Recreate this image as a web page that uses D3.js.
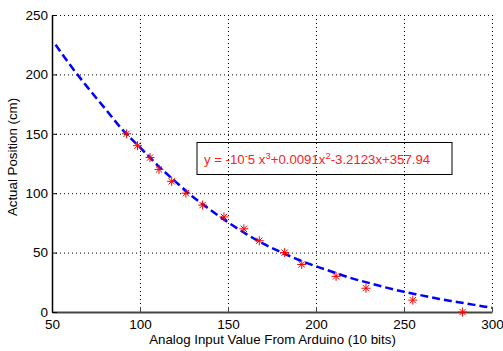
<!DOCTYPE html>
<html>
<head>
<meta charset="utf-8">
<script src="https://cdn.jsdelivr.net/npm/d3@7"></script>
<style>
  body { margin: 0; background: #fff; }
  text { font-family: 'Liberation Sans', Arial, sans-serif; }
</style>
</head>
<body>
<div id="chart"></div>
<script>
// Data
const pointX = [92.4, 98.6, 105.7, 110.8, 118, 126.1, 135.6, 147.7, 159, 167.8, 182.2, 191.9, 211.4, 228.4, 255, 283.3];
const pointY = [150, 140, 130, 120, 110, 100, 90, 80, 70, 60, 50, 40, 30, 20, 10, 0];

const fitX = [52, 60, 70, 80, 90, 100, 110, 120, 130, 140, 150, 160, 170, 180, 190, 200, 210, 220, 230, 240, 250, 260, 270, 280, 290, 300];
const fitY = [225, 208.5, 189.5, 171.5, 153.5, 138.5, 123.5, 110, 97, 86, 75.5, 66, 57.5, 50.5, 44, 38.5, 33.5, 28.5, 24.5, 20.5, 17, 14, 11, 8.5, 6, 3.5];

const xTicks = [50, 100, 150, 200, 250, 300];
const yTicks = [0, 50, 100, 150, 200, 250];

const xLabel = 'Analog Input Value From Arduino (10 bits)';
const yLabel = 'Actual Position (cm)';

function draw() {
  let dimensions = {
    width: 503,
    height: 351,
    left: 52,
    right: 11,
    top: 15,
    bottom: 39,
  };
  dimensions.ctrWidth = dimensions.width - dimensions.left - dimensions.right;
  dimensions.ctrHeight = dimensions.height - dimensions.top - dimensions.bottom;

  const svg = d3
    .select('#chart')
    .append('svg')
    .attr('width', dimensions.width)
    .attr('height', dimensions.height);

  const ctr = svg
    .append('g')
    .attr('transform', `translate(${dimensions.left}, ${dimensions.top})`);

  // Scales
  const xScale = d3.scaleLinear().domain([50, 300]).range([0, dimensions.ctrWidth]);
  const yScale = d3.scaleLinear().domain([0, 250]).range([dimensions.ctrHeight, 0]);

  // Grid (dotted)
  ctr
    .append('g')
    .selectAll('line')
    .data(xTicks.slice(1))
    .join('line')
    .attr('x1', (d) => xScale(d) + 0.5)
    .attr('x2', (d) => xScale(d) + 0.5)
    .attr('y1', 0)
    .attr('y2', dimensions.ctrHeight)
    .attr('stroke', '#000')
    .attr('stroke-dasharray', '1,3');

  ctr
    .append('g')
    .selectAll('line')
    .data(yTicks.slice(1))
    .join('line')
    .attr('x1', 0)
    .attr('x2', dimensions.ctrWidth)
    .attr('y1', (d) => yScale(d) + 0.5)
    .attr('y2', (d) => yScale(d) + 0.5)
    .attr('stroke', '#000')
    .attr('stroke-dasharray', '1,3');

  // Axes
  const xAxis = d3.axisBottom(xScale).tickValues(xTicks).tickSizeInner(-5).tickSizeOuter(0).tickPadding(7);
  const xAxisGroup = ctr
    .append('g')
    .attr('transform', `translate(0, ${dimensions.ctrHeight})`)
    .call(xAxis);
  xAxisGroup.select('.domain').attr('stroke', '#444').attr('stroke-width', 2);
  xAxisGroup.selectAll('.tick line').attr('stroke', '#444');
  xAxisGroup.selectAll('text').attr('font-size', 13.5).attr('fill', '#000')
    .attr('font-family', "'Liberation Sans', Arial, sans-serif");

  const yAxis = d3.axisLeft(yScale).tickValues(yTicks).tickSizeInner(-5).tickSizeOuter(0).tickPadding(4);
  const yAxisGroup = ctr.append('g').call(yAxis);
  yAxisGroup.select('.domain').attr('stroke', '#000').attr('stroke-width', 1.5);
  yAxisGroup.selectAll('text').attr('font-size', 13.5).attr('fill', '#000')
    .attr('font-family', "'Liberation Sans', Arial, sans-serif");

  // Fitted curve
  const line = d3
    .line()
    .x((d, i) => xScale(fitX[i]))
    .y((d) => yScale(d))
    .curve(d3.curveMonotoneX);

  ctr
    .append('path')
    .datum(fitY)
    .attr('d', line)
    .attr('fill', 'none')
    .attr('stroke', '#0000ff')
    .attr('stroke-width', 2.5)
    .attr('stroke-dasharray', '8,4');

  // Asterisk markers
  const r = 4.5;
  const star = [
    [0, -r, 0, r],
    [-r, 0, r, 0],
    [-r * 0.7, -r * 0.7, r * 0.7, r * 0.7],
    [-r * 0.7, r * 0.7, r * 0.7, -r * 0.7],
  ];
  ctr
    .append('g')
    .selectAll('path')
    .data(pointY)
    .join('path')
    .attr('transform', (d, i) => `translate(${xScale(pointX[i])}, ${yScale(d)})`)
    .attr('d', star.map((s) => `M${s[0]},${s[1]}L${s[2]},${s[3]}`).join(''))
    .attr('stroke', '#ff0000')
    .attr('stroke-width', 1)
    .attr('fill', 'none');

  // Equation box
  svg
    .append('rect')
    .attr('x', 197)
    .attr('y', 142.5)
    .attr('width', 255)
    .attr('height', 32)
    .attr('fill', 'none')
    .attr('stroke', '#000')
    .attr('stroke-width', 1);

  const eq = svg
    .append('text')
    .attr('x', 204)
    .attr('y', 163.5)
    .attr('font-size', 13.2)
    .attr('fill', '#ff2020');
  eq.append('tspan').text('y = -10');
  eq.append('tspan').attr('dy', -5).attr('font-size', 9.5).text('-');
  eq.append('tspan').attr('dy', 5).text('5 x');
  eq.append('tspan').attr('dy', -5).attr('font-size', 9.5).text('3');
  eq.append('tspan').attr('dy', 5).text('+0.0091x');
  eq.append('tspan').attr('dy', -5).attr('font-size', 9.5).text('2');
  eq.append('tspan').attr('dy', 5).text('-3.2123x+357.94');

  // Axis labels
  svg
    .append('text')
    .attr('x', 272.5)
    .attr('y', 344)
    .attr('text-anchor', 'middle')
    .attr('font-size', 13.3)
    .text(xLabel);

  svg
    .append('text')
    .attr('transform', `translate(17, 157) rotate(-90)`)
    .attr('text-anchor', 'middle')
    .attr('font-size', 13.3)
    .text(yLabel);
}

draw();
</script>
</body>
</html>
